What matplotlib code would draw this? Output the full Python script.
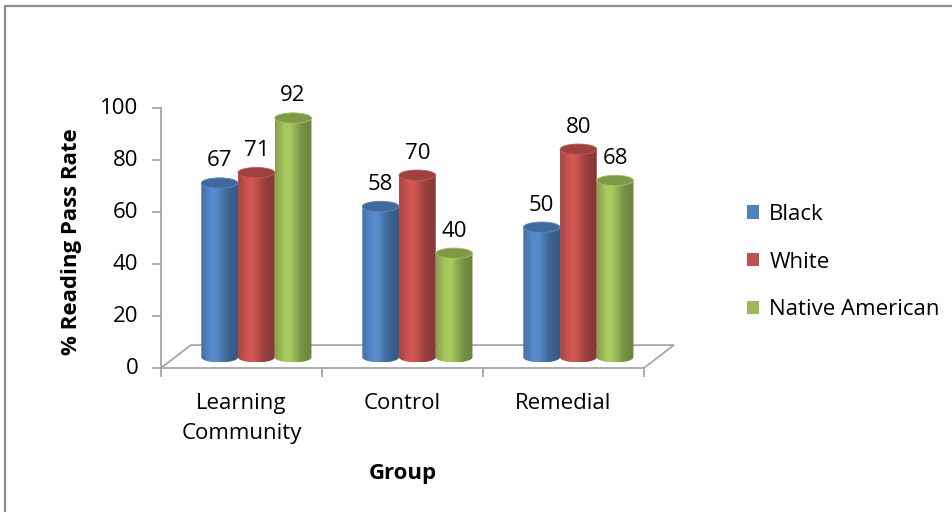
import numpy as np
import matplotlib
matplotlib.use("Agg")
import matplotlib.pyplot as plt
from matplotlib.path import Path
from matplotlib.patches import PathPatch, Ellipse, Patch
from matplotlib.colors import to_rgb

plt.rcParams["font.family"] = ["Open Sans", "DejaVu Sans"]

groups = ["Learning\nCommunity", "Control", "Remedial"]
series = ["Black", "White", "Native American"]
black = [67, 58, 50]
white = [71, 70, 80]
native = [92, 40, 68]
values = [black, white, native]
colors = ["#4F81BD", "#C0504D", "#9BBB59"]
yticks = [0, 20, 40, 60, 80, 100]

FS = 16
W, H = 953, 512
fig = plt.figure(figsize=(W / 100, H / 100), dpi=100)
# axes: x in category units (0..3), y in percent (0..100)
ax = fig.add_axes([161 / W, (H - 368) / H, 483 / W, 260 / H])
ax.set_xlim(0, 3)
ax.set_ylim(0, 100)
ax.axis("off")

grid = "#a6a6a6"
depth_x, depth_y = 0.185, 8.8      # floor depth in data units
cyl_w = 0.228                      # cylinder width
ell_h = 4.0                        # ellipse height (y units)
base = depth_y * 0.47

# floor outline
fx = [0, depth_x, 3 + depth_x, 3]
fy = [0, depth_y, depth_y, 0]
ax.plot(fx, fy, color=grid, lw=1.3, clip_on=False, zorder=1)
ax.plot([0, 3], [0, 0], color=grid, lw=1.3, clip_on=False, zorder=1)
# vertical axis and ticks
ax.plot([0, 0], [0, 100], color=grid, lw=1.3, clip_on=False, zorder=1)
for t in yticks:
    ax.plot([-0.05, 0], [t, t], color=grid, lw=1.3, clip_on=False)
    ax.text(-0.14, t, str(t), ha="right", va="center", fontsize=FS, color="black")
for i in range(len(groups) + 1):
    ax.plot([i, i], [0, -3.2], color=grid, lw=1.3, clip_on=False)
for i, g in enumerate(groups):
    ax.text(i + 0.5, -9.5, g, ha="center", va="top", fontsize=FS, linespacing=1.55)


def shade(rgb, n=64):
    t = np.linspace(0, 1, n)
    f = 0.78 + 0.34 * np.exp(-((t - 0.35) / 0.3) ** 2) - 0.08 * t
    arr = np.clip(np.outer(f, rgb), 0, 1)
    return arr[np.newaxis, :, :]


def cylinder(xc, val, col):
    rgb = np.array(to_rgb(col))
    x0, x1 = xc - cyl_w / 2, xc + cyl_w / 2
    yb, yt = base, base + val
    th = np.linspace(0, np.pi, 40)
    ex = xc + cyl_w / 2 * np.cos(th)
    ey = yb - ell_h / 2 * np.sin(th)
    verts = [(x0, yt), (x1, yt)] + list(zip(ex, ey)) + [(x0, yt)]
    codes = [Path.MOVETO] + [Path.LINETO] * (len(verts) - 2) + [Path.CLOSEPOLY]
    body = PathPatch(Path(verts, codes), facecolor="none", edgecolor="none")
    ax.add_patch(body)
    im = ax.imshow(shade(rgb), extent=[x0, x1, yb - ell_h / 2, yt],
                   aspect="auto", interpolation="bilinear", zorder=3)
    im.set_clip_path(body)
    top = Ellipse((xc, yt), cyl_w, ell_h, facecolor=rgb * 0.82,
                  edgecolor=np.clip(rgb * 1.05, 0, 1), lw=0.6, zorder=4)
    ax.add_patch(top)
    ax.text(xc, yt + ell_h / 2 + 2.5, str(val), ha="center", va="bottom",
            fontsize=FS, zorder=5)


for i in range(len(groups)):
    center = i + 0.5 + depth_x / 2
    for j, s in enumerate(series):
        cylinder(center + (j - 1) * cyl_w, values[j][i], colors[j])

ax.set_xlim(0, 3)
ax.set_ylim(0, 100)

# axis titles
fig.text(72 / W, 1 - 242 / H, "% Reading Pass Rate", rotation=90, ha="center",
         va="center", fontsize=FS, fontweight="bold")
fig.text(403 / W, 1 - 474 / H, "Group", ha="center", va="center",
         fontsize=FS, fontweight="bold")

handles = [Patch(facecolor=c, edgecolor="none") for c in colors]
fig.legend(handles, series, loc="center left", bbox_to_anchor=(727 / W, 1 - 262 / H),
           frameon=False, fontsize=FS, handlelength=0.55, handleheight=0.55,
           handletextpad=0.45, labelspacing=1.2)

# chart-area border (left and top edges inside the canvas)
fig.add_artist(plt.Line2D([5 / W, 5 / W, 1], [0, 1 - 6 / H, 1 - 6 / H],
                          transform=fig.transFigure, color="#8c8c8c", lw=1.6))

fig.savefig("out.png", dpi=100)
